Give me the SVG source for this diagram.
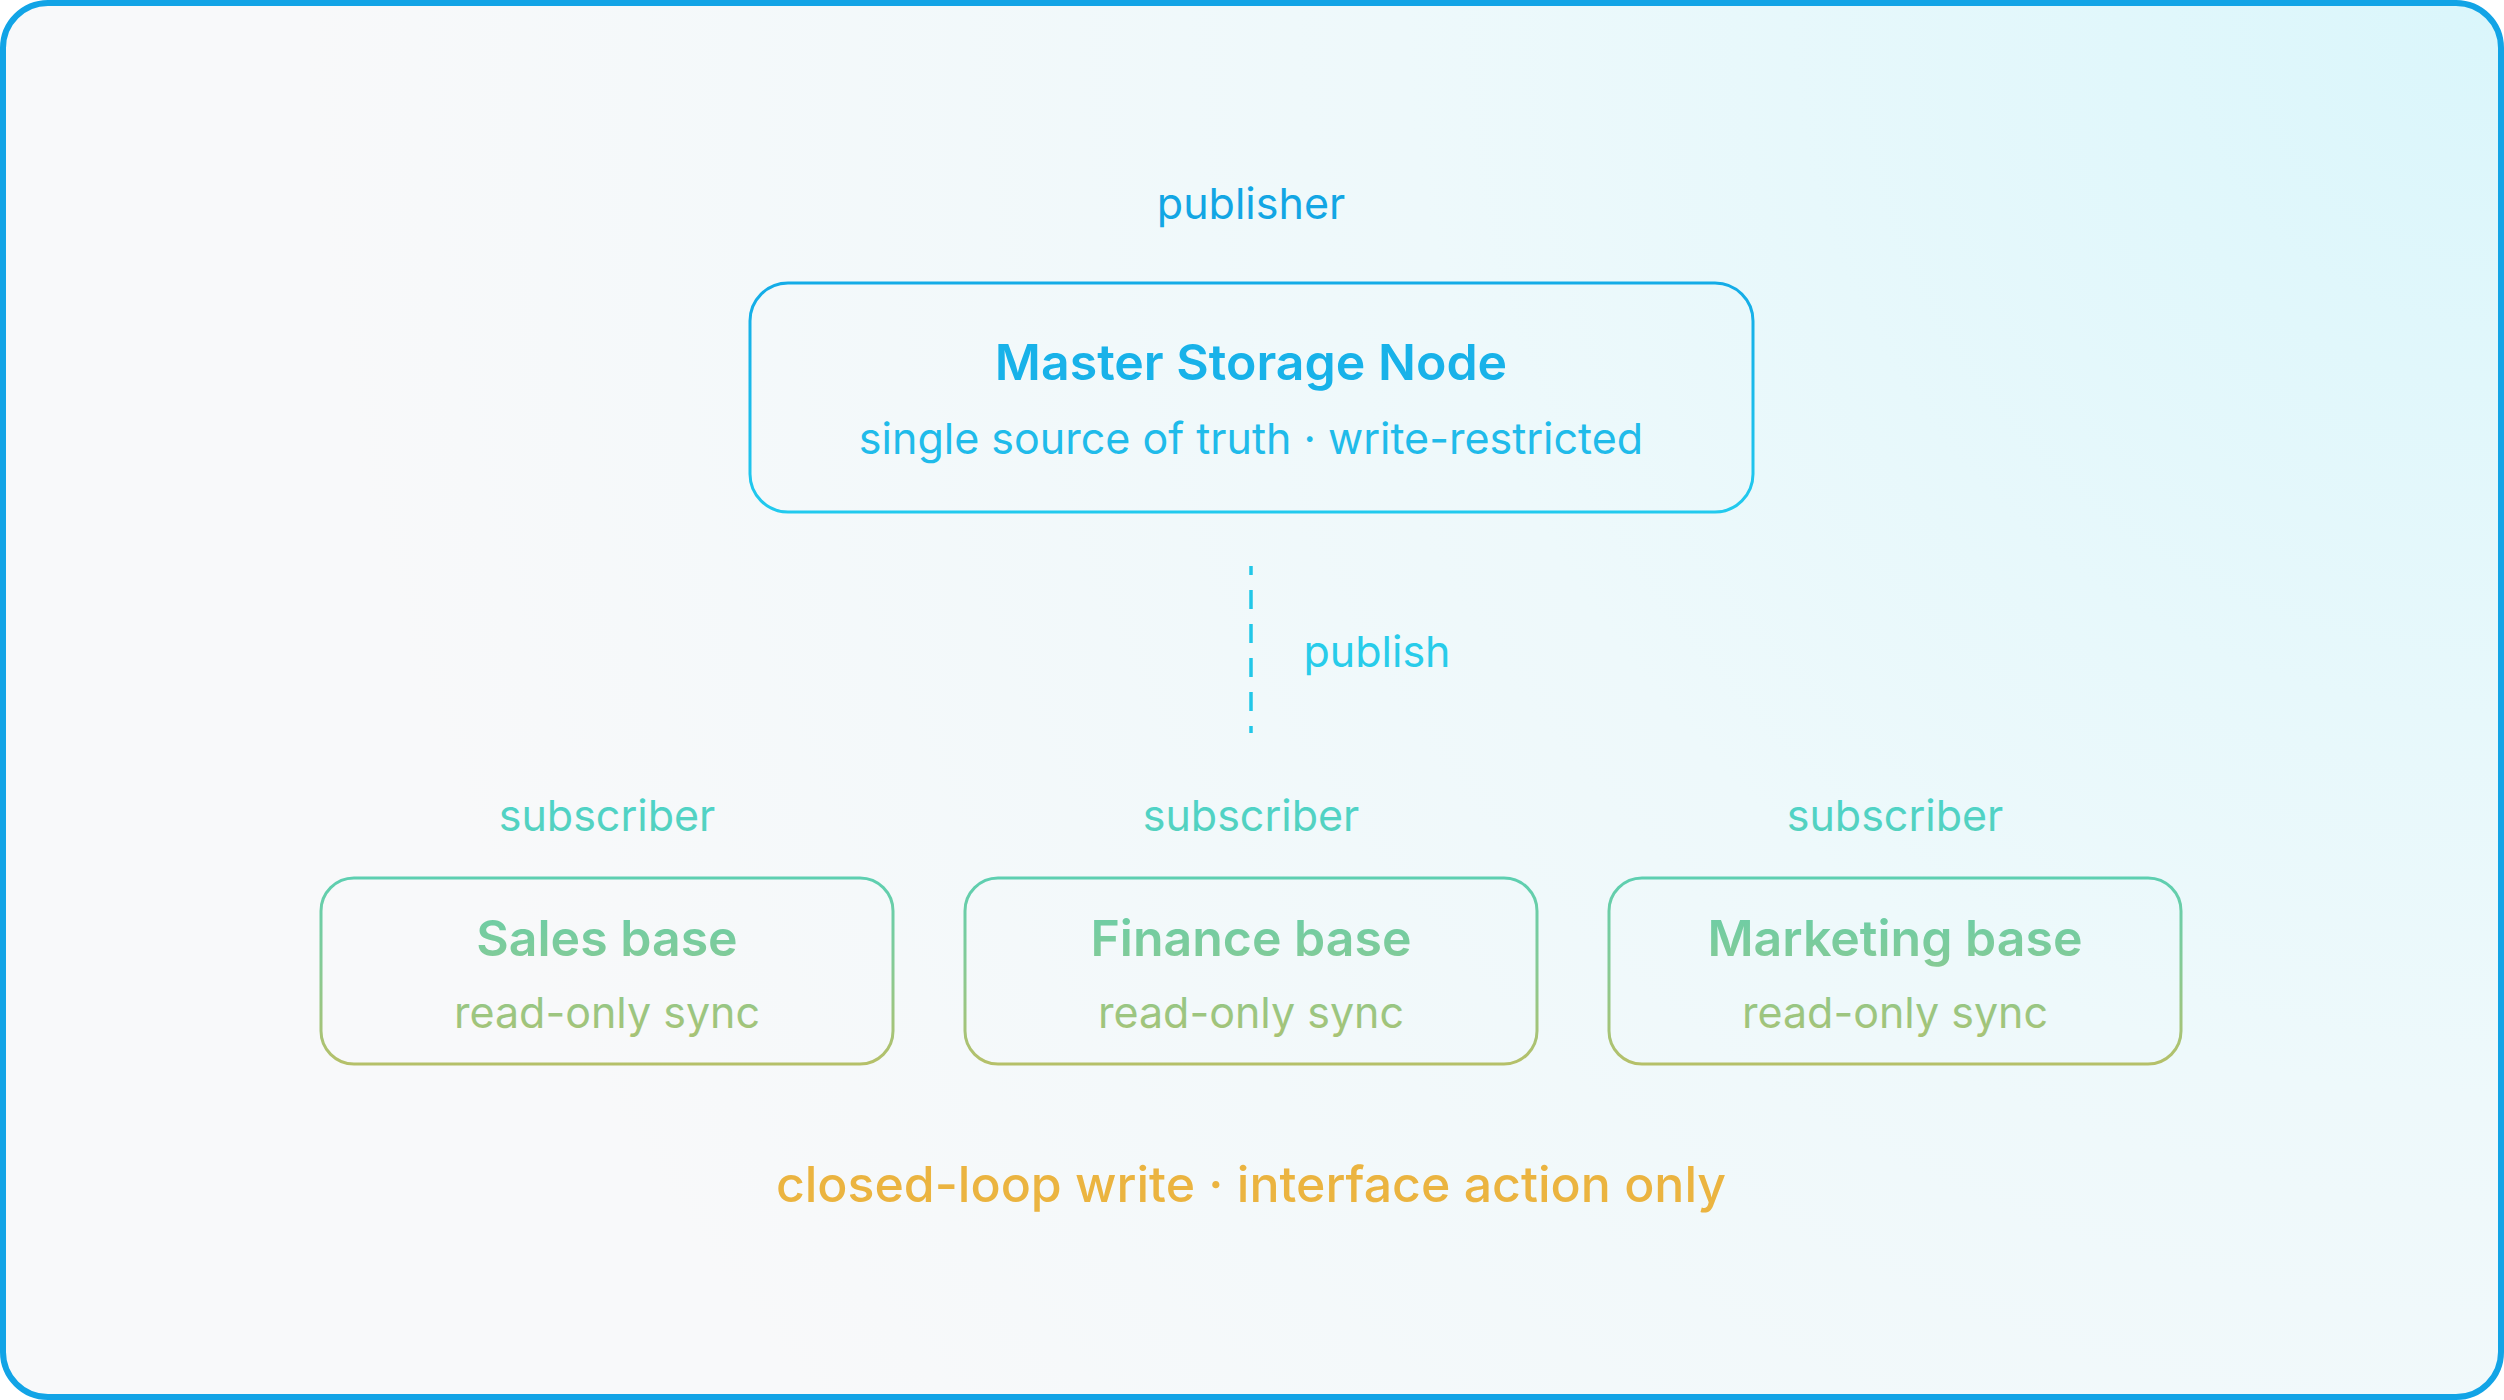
<svg xmlns="http://www.w3.org/2000/svg" width="2504" height="1400" viewBox="0 0 2504 1400">
<defs>
<radialGradient id="bg" cx="2504" cy="0" r="2200" gradientUnits="userSpaceOnUse">
<stop offset="0" stop-color="#DAF6FB"/>
<stop offset="0.5" stop-color="#EEF9FB"/>
<stop offset="1" stop-color="#F8F9FA"/>
</radialGradient>
<linearGradient id="masterStroke" x1="0" y1="283" x2="0" y2="512" gradientUnits="userSpaceOnUse">
<stop offset="0" stop-color="#14ACE7"/>
<stop offset="1" stop-color="#22CAEE"/>
</linearGradient>
<linearGradient id="subG" x1="0" y1="800" x2="0" y2="1066" gradientUnits="userSpaceOnUse">
<stop offset="0" stop-color="#4ED3C8"/>
<stop offset="0.3" stop-color="#5ECFB0"/>
<stop offset="0.6" stop-color="#82CB98"/>
<stop offset="1" stop-color="#B6C068"/>
</linearGradient>
</defs>
<style>
text{font-family:Inter,"Liberation Sans",sans-serif;text-anchor:middle}
.role{font-size:43px}
.title{font-size:50px;font-weight:600}
.sub{font-size:43px}
.sbox{fill:none;stroke:url(#subG);stroke-width:3}
.stext{fill:url(#subG)}
</style>
<rect x="3" y="3" width="2498" height="1394" rx="45" fill="url(#bg)" stroke="#12A4E6" stroke-width="6"/>

<g id="connectors">
<line x1="1251" y1="566" x2="1251" y2="733" stroke="#22C7E8" stroke-width="3.5" stroke-dasharray="19 15" stroke-dashoffset="10" stroke-linecap="butt"/>
<text x="1377" y="667" class="role" fill="#28CCEA">publish</text>
</g>

<g id="master">
<text x="1251" y="219" class="role" fill="#12A6E4">publisher</text>
<rect x="750" y="283" width="1003" height="229" rx="38" fill="none" stroke="url(#masterStroke)" stroke-width="3"/>
<text x="1251" y="380" class="title" fill="#18B2E9">Master Storage Node</text>
<text x="1251" y="454" class="sub" fill="#20BBEA">single source of truth · write-restricted</text>
</g>

<g id="sales">
<text x="607" y="831" class="role stext">subscriber</text>
<rect x="321" y="878" width="572" height="186" rx="33" class="sbox"/>
<text x="607" y="956" class="title stext">Sales base</text>
<text x="607" y="1028" class="sub stext">read-only sync</text>
</g>

<g id="finance">
<text x="1251" y="831" class="role stext">subscriber</text>
<rect x="965" y="878" width="572" height="186" rx="33" class="sbox"/>
<text x="1251" y="956" class="title stext">Finance base</text>
<text x="1251" y="1028" class="sub stext">read-only sync</text>
</g>

<g id="marketing">
<text x="1895" y="831" class="role stext">subscriber</text>
<rect x="1609" y="878" width="572" height="186" rx="33" class="sbox"/>
<text x="1895" y="956" class="title stext">Marketing base</text>
<text x="1895" y="1028" class="sub stext">read-only sync</text>
</g>

<g id="footer">
<text x="1251" y="1202" font-size="50" font-weight="500" fill="#EBB440">closed-loop write · interface action only</text>
</g>
</svg>
